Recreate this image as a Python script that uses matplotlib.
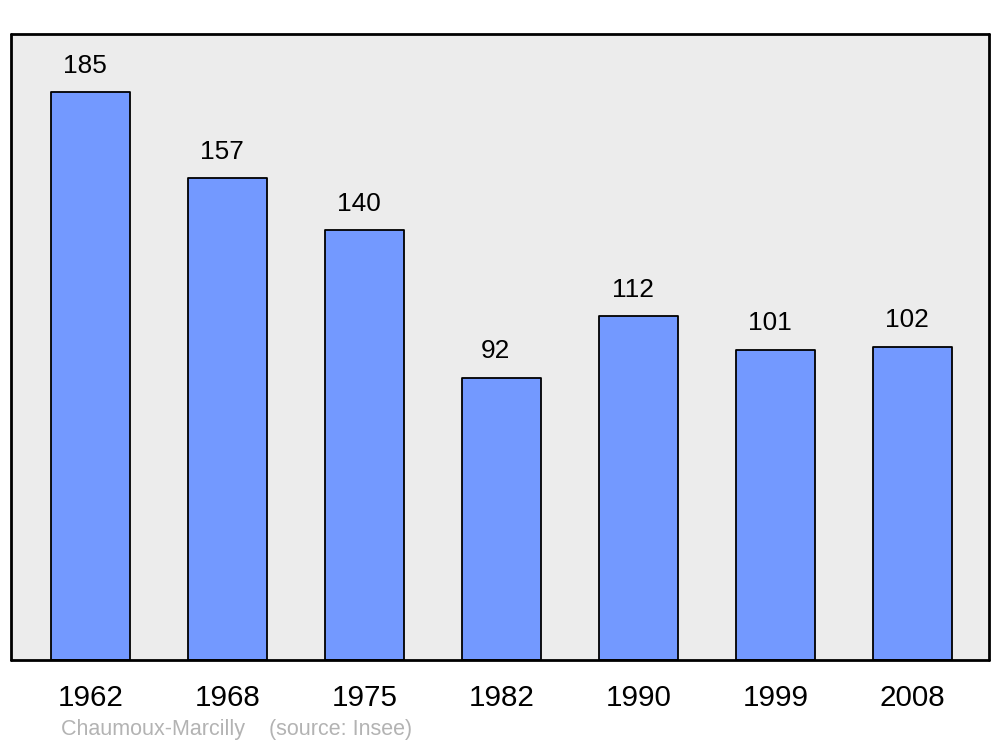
import matplotlib
matplotlib.use("Agg")
import matplotlib.pyplot as plt
import numpy as np

plt.rcParams['font.family'] = ['Liberation Sans', 'DejaVu Sans']

years = ['1962', '1968', '1975', '1982', '1990', '1999', '2008']
population = [185, 157, 140, 92, 112, 101, 102]

fig = plt.figure(figsize=(10, 7.47), dpi=100)
ax = fig.add_axes([0.011, 0.1165, 0.978, 0.838])
ax.set_facecolor('#ececec')

x = np.arange(len(years))
bars = ax.bar(x, population, width=0.575, color='#7399ff', edgecolor='black',
              linewidth=1.3, joinstyle='round')

for xi, v in zip(x, population):
    ax.annotate(str(v), (xi, v), xytext=(-4, 10.5), textcoords='offset points',
                ha='center', va='bottom', fontsize=18.9)

ax.set_xlim(-0.58, 6.56)
ax.set_ylim(0, 204)
ax.set_yticks([])
ax.set_xticks(x)
ax.set_xticklabels(years, fontsize=21.3)
ax.tick_params(axis='x', length=0, pad=17)
for s in ax.spines.values():
    s.set_linewidth(2)
    s.set_capstyle('round')

fig.text(0.061, 0.009, 'Chaumoux-Marcilly    (source: Insee)', color='#b3b3b3',
         fontsize=15.5, va='bottom')

fig.savefig('out.png', dpi=100)
